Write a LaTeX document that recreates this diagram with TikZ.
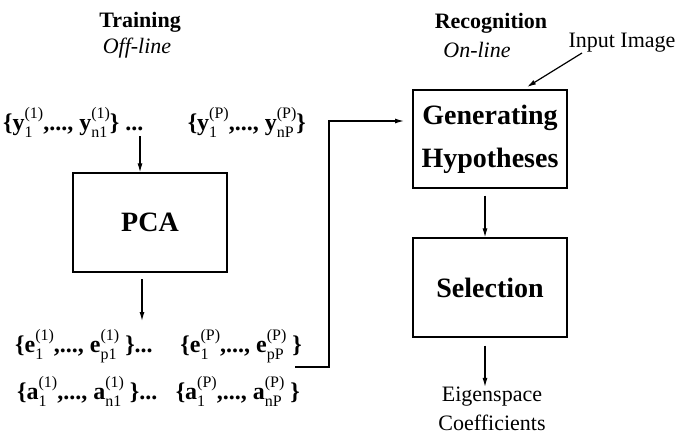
\documentclass[tikz,border=0pt]{standalone}
\usepackage{fontspec}
\setmainfont{Liberation Serif}
\usetikzlibrary{arrows.meta}
\newcommand{\scrsz}{\fontsize{16}{16}\selectfont\mdseries}
\newcommand{\sv}[3]{\textbf{#1}\setbox0\hbox{\scrsz #2}\setbox2\hbox{\scrsz #3}\ifdim\wd0>\wd2 \rlap{\raisebox{0.5em}{\copy2}}\raisebox{-0.33em}{\copy0}\else\rlap{\raisebox{-0.33em}{\copy0}}\raisebox{0.5em}{\copy2}\fi}
\begin{document}
\begin{tikzpicture}[x=1pt,y=-1pt,
  every node/.style={inner sep=0pt, font=\fontsize{22}{26}\selectfont},
  head/.style={font=\fontsize{22}{26}\selectfont\bfseries},
  sub/.style={font=\fontsize{22}{26}\selectfont\itshape},
  setx/.style={font=\fontsize{24}{28}\selectfont\bfseries},
  box/.style={draw, line width=1.3pt, minimum width=154pt, minimum height=99pt,
    font=\fontsize{28}{43}\selectfont\bfseries, align=center},
  arr/.style={line width=1.2pt, -{Latex[length=9pt,width=5pt]}}]
\useasboundingbox (0,0) rectangle (679,437);

% headings
\node[head] (train) at (140,22) {Training};
\node[sub] (off) at (137,48) {Off-line};
\node[head] (recog) at (491,23) {Recognition};
\node[sub] (on) at (477,50) {On-line};
\node (inp) at (622,43) {Input Image};

% data rows
\node[setx, anchor=base west] (ys1) at (3,130) {\{\sv{y}{1}{(1)},..., \sv{y}{n1}{(1)}\} ...};
\node[setx, anchor=base east] (ys2) at (306,130) {\{\sv{y}{1}{(P)},..., \sv{y}{nP}{(P)}\}};
\node[setx, anchor=base west] (es1) at (15,352) {\{\sv{e}{1}{(1)},..., \sv{e}{p1}{(1)} \}...};
\node[setx, anchor=base east] (es2) at (302,352) {\{\sv{e}{1}{(P)},..., \sv{e}{pP}{(P)} \}};
\node[setx, anchor=base west] (as1) at (17,399) {\{\sv{a}{1}{(1)},..., \sv{a}{n1}{(1)} \}...};
\node[setx, anchor=base east] (as2) at (300,399) {\{\sv{a}{1}{(P)},..., \sv{a}{nP}{(P)} \}};

% boxes
\node[box] (pca) at (150,222.5) {PCA};
\node[box, minimum height=98pt] (gen) at (490,139) {Generating\\Hypotheses};
\node[box] (sel) at (490,287.5) {Selection};
\node[align=center, font=\fontsize{22}{29}\selectfont] (eig) at (492,409) {Eigenspace\\Coefficients};

% connectors
\coordinate (t1) at (140,136);
\draw[arr] (t1) -- (t1 |- pca.north);
\coordinate (t2) at (142,279);
\coordinate (t3) at (142,321);
\draw[arr] (t2) -- (t3);
\coordinate (c0) at (295,367);
\coordinate (c1) at (404,121);
\draw[arr] (c0) -- (329,367) |- (c1);
\coordinate (i0) at (582,53);
\coordinate (i1) at (527,87);
\draw[arr] (i0) -- (i1);
\draw[arr] ([xshift=-5pt,yshift=-7pt]gen.south) -- ([xshift=-5pt]sel.north);
\draw[arr] ([xshift=-5pt,yshift=-8pt]sel.south) -- ([xshift=-5pt]sel.south |- eig.north);
\end{tikzpicture}
\end{document}
